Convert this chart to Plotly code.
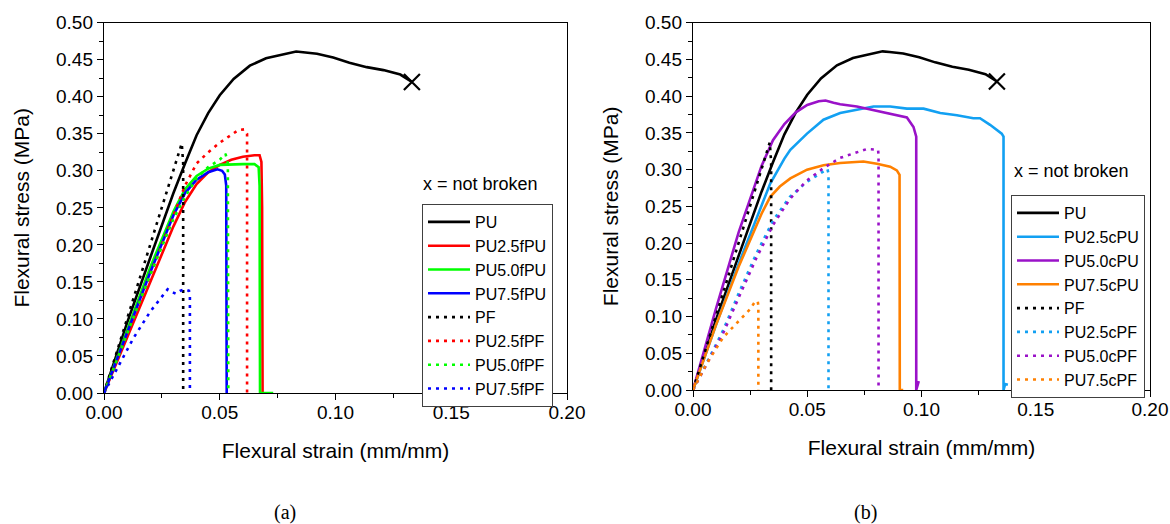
import plotly.graph_objects as go

# ---------------- Panel (a) data ----------------
PU_strain = [0, 0.01, 0.02, 0.03, 0.035, 0.04, 0.045, 0.05, 0.056, 0.063, 0.07, 0.078, 0.083, 0.086, 0.092, 0.099, 0.106, 0.1135, 0.1207, 0.128, 0.133]
PU_stress = [0, 0.095, 0.183, 0.27, 0.31, 0.348, 0.378, 0.402, 0.424, 0.442, 0.452, 0.458, 0.461, 0.460, 0.458, 0.453, 0.446, 0.440, 0.436, 0.430, 0.420]

PF_strain = [0, 0.01, 0.02, 0.03, 0.0336, 0.0342, 0.0342]
PF_stress = [0, 0.10, 0.20, 0.30, 0.337, 0.31, 0.0]

fPU25_strain = [0, 0.01, 0.02, 0.03, 0.035, 0.04, 0.045, 0.05, 0.055, 0.06, 0.065, 0.0672, 0.068, 0.0683, 0.0685]
fPU25_stress = [0, 0.075, 0.15, 0.225, 0.258, 0.282, 0.298, 0.308, 0.315, 0.319, 0.321, 0.321, 0.312, 0.25, 0.0]

fPU50_strain = [0, 0.01, 0.02, 0.03, 0.035, 0.04, 0.045, 0.05, 0.055, 0.06, 0.065, 0.0668, 0.0672, 0.0674, 0.0731]
fPU50_stress = [0, 0.085, 0.17, 0.245, 0.275, 0.293, 0.303, 0.308, 0.309, 0.309, 0.309, 0.305, 0.28, 0.0, 0.0]

fPU75_strain = [0, 0.01, 0.02, 0.03, 0.035, 0.04, 0.045, 0.049, 0.051, 0.0522, 0.0528, 0.053]
fPU75_stress = [0, 0.082, 0.163, 0.24, 0.27, 0.288, 0.298, 0.302, 0.300, 0.295, 0.28, 0.0]

fPF25_strain = [0, 0.01, 0.02, 0.03, 0.035, 0.04, 0.045, 0.05, 0.055, 0.058, 0.0605, 0.0615, 0.0618, 0.0618]
fPF25_stress = [0, 0.08, 0.16, 0.24, 0.28, 0.31, 0.325, 0.338, 0.349, 0.355, 0.356, 0.352, 0.35, 0.0]

fPF50_strain = [0, 0.01, 0.02, 0.03, 0.035, 0.04, 0.045, 0.05, 0.0525, 0.0535, 0.0537]
fPF50_stress = [0, 0.08, 0.16, 0.235, 0.265, 0.29, 0.305, 0.315, 0.323, 0.31, 0.0]

fPF75_strain = [0, 0.007, 0.0127, 0.02, 0.025, 0.0275, 0.029, 0.031, 0.033, 0.035, 0.0367, 0.0371, 0.0371]
fPF75_stress = [0, 0.04, 0.074, 0.11, 0.13, 0.140, 0.137, 0.134, 0.138, 0.140, 0.138, 0.13, 0.0]

# ---------------- Panel (b) data ----------------
cPU25_strain = [0, 0.01, 0.02, 0.03, 0.0338, 0.04, 0.0426, 0.0499, 0.0571, 0.0644, 0.0717, 0.079, 0.0863, 0.0936, 0.1009, 0.1082, 0.1155, 0.1227, 0.1256, 0.130, 0.1351, 0.1359, 0.1359, 0.1366, 0.1378]
cPU25_stress = [0, 0.088, 0.172, 0.25, 0.281, 0.315, 0.327, 0.349, 0.368, 0.377, 0.382, 0.386, 0.386, 0.383, 0.383, 0.377, 0.374, 0.370, 0.370, 0.361, 0.349, 0.345, 0.0, 0.008, 0.007]

cPU50_strain = [0, 0.01, 0.02, 0.03, 0.035, 0.04, 0.045, 0.05, 0.055, 0.058, 0.0615, 0.0644, 0.0717, 0.079, 0.0863, 0.0936, 0.0965, 0.0977, 0.0977, 0.0988]
cPU50_stress = [0, 0.11, 0.215, 0.305, 0.34, 0.362, 0.378, 0.388, 0.393, 0.394, 0.391, 0.389, 0.386, 0.381, 0.376, 0.371, 0.358, 0.345, 0.0, 0.012]

cPU75_strain = [0, 0.01, 0.02, 0.03, 0.0338, 0.038, 0.0426, 0.0499, 0.0571, 0.0644, 0.0746, 0.0805, 0.0863, 0.0892, 0.0904, 0.0905, 0.092]
cPU75_stress = [0, 0.088, 0.168, 0.24, 0.263, 0.277, 0.288, 0.300, 0.306, 0.309, 0.311, 0.308, 0.304, 0.299, 0.293, 0.0, 0.0]

cPF25_strain = [0, 0.0133, 0.0206, 0.0278, 0.0351, 0.0424, 0.0497, 0.0555, 0.0588, 0.0593, 0.0593]
cPF25_stress = [0, 0.082, 0.136, 0.186, 0.231, 0.263, 0.283, 0.295, 0.301, 0.295, 0.0]

cPF50_strain = [0, 0.0133, 0.0206, 0.0278, 0.0351, 0.0424, 0.0497, 0.0571, 0.0644, 0.0717, 0.0761, 0.081, 0.0812, 0.0812]
cPF50_stress = [0, 0.078, 0.13, 0.18, 0.225, 0.26, 0.285, 0.302, 0.316, 0.323, 0.328, 0.327, 0.32, 0.0]

cPF75_strain = [0, 0.006, 0.0133, 0.0206, 0.025, 0.0271, 0.0283, 0.0286, 0.0286]
cPF75_stress = [0, 0.036, 0.072, 0.095, 0.11, 0.12, 0.121, 0.115, 0.0]

left_series = [
    ("PU", PU_strain, PU_stress, "#000000", "solid"),
    ("PU2.5fPU", fPU25_strain, fPU25_stress, "#ff0000", "solid"),
    ("PU5.0fPU", fPU50_strain, fPU50_stress, "#00ff00", "solid"),
    ("PU7.5fPU", fPU75_strain, fPU75_stress, "#0000ff", "solid"),
    ("PF", PF_strain, PF_stress, "#000000", "dot"),
    ("PU2.5fPF", fPF25_strain, fPF25_stress, "#ff0000", "dot"),
    ("PU5.0fPF", fPF50_strain, fPF50_stress, "#00ff00", "dot"),
    ("PU7.5fPF", fPF75_strain, fPF75_stress, "#0000ff", "dot"),
]
right_series = [
    ("PU", PU_strain, PU_stress, "#000000", "solid"),
    ("PU2.5cPU", cPU25_strain, cPU25_stress, "#12a0f2", "solid"),
    ("PU5.0cPU", cPU50_strain, cPU50_stress, "#9a12c8", "solid"),
    ("PU7.5cPU", cPU75_strain, cPU75_stress, "#ff8000", "solid"),
    ("PF", PF_strain, PF_stress, "#000000", "dot"),
    ("PU2.5cPF", cPF25_strain, cPF25_stress, "#12a0f2", "dot"),
    ("PU5.0cPF", cPF50_strain, cPF50_stress, "#9a12c8", "dot"),
    ("PU7.5cPF", cPF75_strain, cPF75_stress, "#ff8000", "dot"),
]

FONT = "Liberation Sans, Arial, sans-serif"
fig = go.Figure()

def add_panel(series, xa, ya, legend):
    for name, xs, ys, col, dash in series:
        d = "3px,5px" if dash == "dot" else "solid"
        fig.add_trace(go.Scatter(x=xs, y=ys, mode="lines", name=name,
                                 line=dict(color=col, width=2.6, dash=d),
                                 xaxis=xa, yaxis=ya, legend=legend))
    # "not broken" cross at the end of the PU curve
    fig.add_trace(go.Scatter(x=[PU_strain[-1]], y=[PU_stress[-1]], mode="markers",
                             marker=dict(symbol="x-thin", size=16, line=dict(color="black", width=2.2)),
                             showlegend=False, xaxis=xa, yaxis=ya, cliponaxis=False))

add_panel(left_series, "x", "y", "legend")
add_panel(right_series, "x2", "y2", "legend2")

axis_common = dict(
    showline=True, linecolor="black", linewidth=1.4, mirror=True,
    ticks="outside", ticklen=6, tickwidth=1.4, tickcolor="black",
    showgrid=False, zeroline=False, automargin=False,
    tickfont=dict(family=FONT, size=19, color="black"),
    tickformat=".2f",
    title_font=dict(family=FONT, size=21, color="black"),
)
xcommon = dict(axis_common, range=[0, 0.2], dtick=0.05, tick0=0,
               minor=dict(dtick=0.025, ticks="outside", ticklen=3.5, tickwidth=1.4, tickcolor="black", showgrid=False),
               ticklabelstandoff=-4,
               title_text="Flexural strain (mm/mm)", title_standoff=21)
ycommon = dict(axis_common, range=[0, 0.5], dtick=0.05, tick0=0,
               minor=dict(dtick=0.025, ticks="outside", ticklen=3.5, tickwidth=1.4, tickcolor="black", showgrid=False),
               title_text="Flexural stress (MPa)", title_standoff=20)

legend_common = dict(bgcolor="white", bordercolor="#404040", borderwidth=1,
                     font=dict(family=FONT, size=16, color="black"),
                     xanchor="left", yanchor="top", traceorder="normal",
                     tracegroupgap=0, itemwidth=42)

fig.update_layout(
    template="none",
    width=1170, height=524,
    margin=dict(l=0, r=0, t=0, b=0),
    paper_bgcolor="white", plot_bgcolor="white",
    xaxis=dict(xcommon, domain=[104/1170, 567/1170], anchor="y"),
    yaxis=dict(ycommon, domain=[1-393/524, 1-22.7/524], anchor="x"),
    xaxis2=dict(xcommon, domain=[693/1170, 1150/1170], anchor="y2"),
    yaxis2=dict(ycommon, domain=[1-390/524, 1-22.7/524], anchor="x2"),
    legend=dict(legend_common, x=422/1170, y=1-204/524),
    legend2=dict(legend_common, x=1011/1170, y=1-195/524),
    annotations=[
        dict(text="x = not broken", x=421/1170, y=1-184/524, xref="paper", yref="paper",
             xanchor="left", yanchor="middle", showarrow=False,
             font=dict(family=FONT, size=18, color="black")),
        dict(text="x = not broken", x=1012/1170, y=1-171/524, xref="paper", yref="paper",
             xanchor="left", yanchor="middle", showarrow=False,
             font=dict(family=FONT, size=18, color="black")),
        dict(text="(a)", x=285/1170, y=1-512/524, xref="paper", yref="paper",
             xanchor="center", yanchor="middle", showarrow=False,
             font=dict(family="Liberation Serif, Times New Roman, serif", size=20, color="black")),
        dict(text="(b)", x=865/1170, y=1-512/524, xref="paper", yref="paper",
             xanchor="center", yanchor="middle", showarrow=False,
             font=dict(family="Liberation Serif, Times New Roman, serif", size=20, color="black")),
    ],
)

fig.write_html("out.html")
